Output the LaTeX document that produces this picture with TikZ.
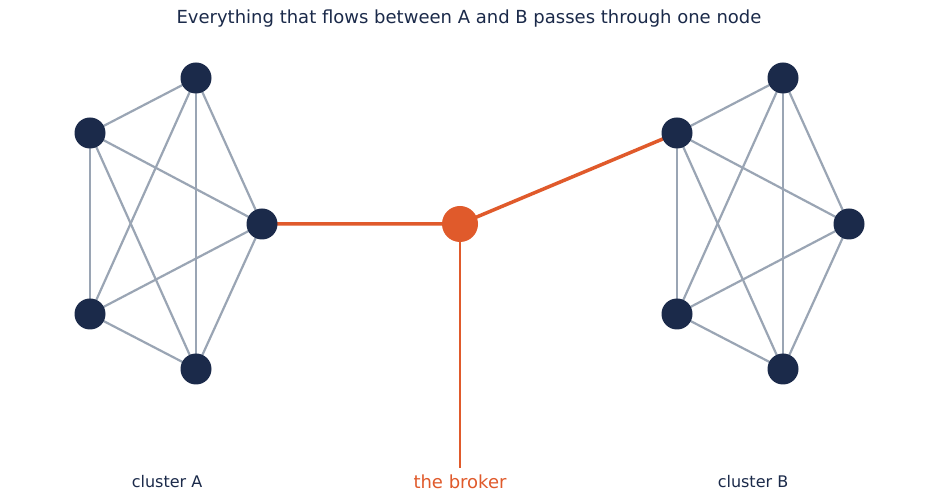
\documentclass[tikz,border=0pt]{standalone}
\usepackage{fontspec}
\setmainfont{DejaVu Sans}
\definecolor{navy}{HTML}{1B2A4A}
\definecolor{edge}{HTML}{9AA5B4}
\definecolor{brk}{HTML}{E05A2B}
\begin{document}
\begin{tikzpicture}[x=1pt,y=-1pt,
  dot/.style={circle,fill=navy,minimum size=31pt,inner sep=0pt},
  bdot/.style={circle,fill=brk,minimum size=36pt,inner sep=0pt},
  e/.style={draw=edge,line width=2.2pt},
  o/.style={draw=brk,line width=3.5pt},
  lab/.style={text=navy,font=\fontsize{16}{18}\selectfont}]
\useasboundingbox[fill=white] (0,0) rectangle (938,502);
\node[text=navy,font=\fontsize{18}{20}\selectfont] (title) at (469,19) {Everything that flows between A and B passes through one node};
\foreach \c/\dx in {A/0,B/587}{
  \coordinate (\c1) at (196+\dx,78);
  \coordinate (\c2) at (90+\dx,133);
  \coordinate (\c3) at (262+\dx,224);
  \coordinate (\c4) at (90+\dx,314);
  \coordinate (\c5) at (196+\dx,369);
  \foreach \i/\j in {1/2,1/3,1/4,1/5,2/3,2/4,2/5,3/4,3/5,4/5}{\draw[e] (\c\i) -- (\c\j);}
}
\coordinate (bc) at (460,224);
\coordinate (bl) at (460,468);
\draw[brk,line width=1.8pt] (bc) -- (bl);
\draw[o] (A3) -- (bc) -- (B2);
\foreach \c in {A,B}{\foreach \i in {1,...,5}{\node[dot] (n\c\i) at (\c\i) {};}}
\node[bdot] (broker) at (bc) {};
\node[lab] (la) at (167,482) {cluster A};
\node[lab] (lb) at (753,482) {cluster B};
\node[text=brk,font=\fontsize{18}{20}\selectfont] (lbr) at (460,482) {the broker};
\end{tikzpicture}
\end{document}
